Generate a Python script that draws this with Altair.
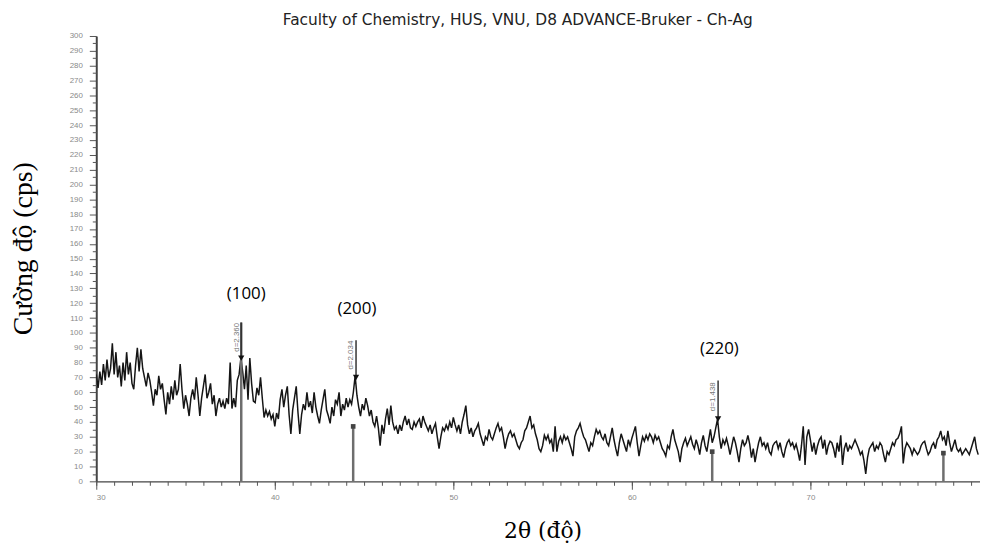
import altair as alt
import pandas as pd

# ---- scan data (2theta grid start/step, intensity) ----
scan_start = 30.0
scan_step = 0.1
intensity = [
    72, 63, 74, 65, 79, 68, 82, 70, 76, 93,
    72, 87, 70, 78, 64, 80, 68, 87, 72, 80,
    66, 62, 78, 90, 74, 89, 76, 70, 64, 73,
    68, 60, 51, 62, 58, 71, 62, 66, 55, 45,
    60, 52, 64, 55, 68, 58, 62, 79, 62, 49,
    58, 52, 44, 56, 62, 55, 70, 58, 44, 56,
    64, 72, 56, 60, 66, 52, 58, 44, 52, 56,
    50, 54, 49, 56, 52, 80, 49, 56, 50, 68,
    72, 83, 74, 62, 78, 55, 83, 66, 54, 53,
    63, 58, 70, 56, 43, 48, 44, 47, 42, 45,
    37, 46, 42, 55, 62, 50, 58, 64, 45, 32,
    48, 56, 64, 46, 32, 45, 52, 48, 60, 50,
    54, 46, 60, 50, 44, 39, 48, 55, 62, 48,
    44, 39, 50, 44, 55, 52, 60, 44, 52, 48,
    56, 50, 55, 52, 60, 71, 58, 50, 44, 52,
    48, 56, 51, 44, 48, 40, 37, 44, 36, 24,
    38, 32, 42, 49, 38, 51, 40, 35, 37, 32,
    38, 34, 40, 44, 38, 42, 36, 35, 40, 37,
    40, 42, 36, 44, 40, 37, 34, 38, 32, 36,
    39, 30, 22, 30, 36, 34, 38, 35, 40, 36,
    43, 38, 34, 38, 32, 40, 45, 51, 38, 32,
    36, 30, 34, 36, 39, 32, 28, 24, 30, 28,
    35, 30, 28, 32, 36, 39, 34, 36, 30, 22,
    28, 32, 34, 30, 32, 28, 24, 22, 26, 28,
    34, 36, 40, 44, 36, 38, 32, 28, 22, 20,
    24, 31, 28, 31, 26, 28, 20, 37, 20, 27,
    30, 26, 31, 28, 30, 26, 22, 17, 30, 34,
    36, 39, 34, 30, 28, 24, 20, 26, 24, 30,
    35, 32, 34, 30, 28, 32, 26, 24, 30, 36,
    28, 22, 17, 26, 32, 28, 24, 20, 28, 24,
    29, 33, 37, 26, 17, 24, 30, 27, 31, 28,
    32, 30, 26, 31, 28, 30, 26, 22, 20, 17,
    24, 22, 30, 35, 28, 24, 20, 13, 22, 26,
    29, 24, 27, 30, 25, 22, 28, 24, 18, 26,
    31, 24, 20, 28, 35, 26, 30, 36, 42, 30,
    22, 28, 25, 29, 24, 18, 24, 30, 26, 20,
    13, 22, 28, 24, 26, 31, 25, 16, 22, 13,
    20, 26, 30, 24, 26, 22, 26, 20, 18, 24,
    26, 27, 22, 26, 20, 16, 22, 26, 28, 24,
    26, 22, 25, 20, 14, 24, 37, 11, 30, 35,
    28, 20, 26, 18, 24, 28, 30, 22, 28, 18,
    24, 27, 26, 22, 16, 26, 20, 31, 11, 22,
    26, 20, 24, 22, 25, 28, 25, 22, 18, 20,
    14, 5, 16, 22, 24, 26, 20, 24, 22, 26,
    24, 18, 13, 20, 18, 22, 26, 24, 28, 29,
    32, 37, 12, 22, 26, 24, 22, 18, 22, 20,
    18, 20, 24, 26, 27, 22, 18, 20, 24, 26,
    22, 28, 30, 34, 28, 30, 24, 34, 26, 20,
    24, 28, 22, 20, 22, 18, 20, 22, 20, 18,
    22, 26, 30, 22, 18,
]
two_theta = [round(scan_start + i * scan_step, 2) for i in range(len(intensity))]

# ---- reference card sticks ----
stick_pos = [38.12, 44.39, 64.50, 77.45]
stick_height = [107, 37, 20, 19]
cap_pos = [44.39, 64.50, 77.45]
cap_height = [37, 20, 19]

# ---- d-spacing markers ----
marker_pos = [38.12, 44.55, 64.83]
marker_top = [107, 95, 68]
marker_peak = [83, 70, 42]
d_text = ["d=2.360", "d=2.034", "d=1.438"]
d_text_x = [37.86, 44.29, 64.57]
d_text_y = [97, 85, 57]

# ---- hkl labels ----
hkl_text = ["(100)", "(200)", "(220)"]
hkl_x = [38.4, 44.6, 64.9]
hkl_y = [126, 116, 89]

# ---- axes ----
x_domain = [30, 79.5]
y_domain = [0, 300]
x_major = [30, 40, 50, 60, 70]
x_minor = list(range(30, 80))
y_major = list(range(0, 301, 10))
y_minor = list(range(5, 300, 10))

scan = pd.DataFrame({"x": two_theta, "y": intensity})
sticks = pd.DataFrame({"x": stick_pos, "y": stick_height})
caps = pd.DataFrame({"x": cap_pos, "y": cap_height})
markers = pd.DataFrame({"x": marker_pos, "top": marker_top, "peak": marker_peak})
dlab = pd.DataFrame({"x": d_text_x, "y": d_text_y, "t": d_text})
hkl = pd.DataFrame({"x": hkl_x, "y": hkl_y, "t": hkl_text})

xs = alt.Scale(domain=x_domain, nice=False, zero=False)
ys = alt.Scale(domain=y_domain, nice=False)

lab = dict(labelFont="Liberation Sans", labelFontSize=8, labelColor="#8a8a8a",
           tickColor="#555", domainColor="#444", grid=False)

x_axis_major = alt.Axis(values=x_major, tickSize=8, labelPadding=4, domainWidth=1.2,
                        tickWidth=1, orient="bottom", title="2θ (độ)",
                        titleFont="DejaVu Serif", titleFontSize=22, titleFontWeight="normal",
                        titleColor="#000", titleX=450, titleY=50, titleBaseline="middle",
                        titleAlign="center", **lab)
y_axis_major = alt.Axis(values=y_major, tickSize=7, labelPadding=7, domainWidth=2,
                        tickWidth=1, orient="left", title="Cường độ (cps)",
                        titleFont="Liberation Serif", titleFontSize=28, titleFontWeight="normal",
                        titleColor="#000", titleX=-73, titleY=214, titleBaseline="middle",
                        titleAlign="center", titleAngle=270, **lab)
x_axis_minor = alt.Axis(values=x_minor, tickSize=4, labels=False, domain=False,
                        orient="bottom", title=None, tickColor="#555", grid=False)
y_axis_minor = alt.Axis(values=y_minor, tickSize=4, labels=False, domain=False,
                        orient="left", title=None, tickColor="#555", grid=False)

line = alt.Chart(scan).mark_line(color="#151515", strokeWidth=1.5, clip=True).encode(
    x=alt.X("x:Q", scale=xs, axis=x_axis_major),
    y=alt.Y("y:Q", scale=ys, axis=y_axis_major),
)

stick_layer = alt.Chart(sticks).mark_rule(color="#6e6e6e", strokeWidth=2.5).encode(
    x=alt.X("x:Q", scale=xs, axis=x_axis_minor),
    y=alt.Y("y:Q", scale=ys, axis=y_axis_minor),
    y2=alt.datum(0),
)

cap_layer = alt.Chart(caps).mark_point(shape="square", filled=True, size=22,
                                       color="#444", opacity=1).encode(
    x=alt.X("x:Q", scale=xs, axis=None),
    y=alt.Y("y:Q", scale=ys, axis=None),
)

marker_line = alt.Chart(markers).mark_rule(color="#333", strokeWidth=1.5).encode(
    x=alt.X("x:Q", scale=xs, axis=None),
    y=alt.Y("top:Q", scale=ys, axis=None),
    y2="peak:Q",
)

marker_arrow = alt.Chart(markers).mark_point(shape="triangle-down", filled=True, size=40,
                                             color="#111", opacity=1).encode(
    x=alt.X("x:Q", scale=xs, axis=None),
    y=alt.Y("peak:Q", scale=ys, axis=None),
)

d_layer = alt.Chart(dlab).mark_text(angle=270, font="Liberation Sans", fontSize=8,
                                    color="#777").encode(
    x=alt.X("x:Q", scale=xs, axis=None),
    y=alt.Y("y:Q", scale=ys, axis=None),
    text="t:N",
)

hkl_layer = alt.Chart(hkl).mark_text(font="Open Sans", fontSize=17, color="#000").encode(
    x=alt.X("x:Q", scale=xs, axis=None),
    y=alt.Y("y:Q", scale=ys, axis=None),
    text="t:N",
)

chart = alt.layer(
    line, stick_layer, cap_layer, marker_line, marker_arrow, d_layer, hkl_layer
).resolve_axis(x="independent", y="independent").properties(
    width=891,
    height=449,
    title=alt.TitleParams(
        "Faculty of Chemistry, HUS, VNU, D8 ADVANCE-Bruker - Ch-Ag",
        font="DejaVu Sans", fontSize=15.5, fontWeight="normal", color="#222",
        anchor="start", dx=188, offset=4, frame="group",
    ),
    autosize=alt.AutoSizeParams(type="none"),
    padding={"left": 89, "top": 26, "right": 0, "bottom": 66},
).configure_view(stroke=None)

chart.save("out.html", embed_options={"renderer": "svg", "actions": False})
